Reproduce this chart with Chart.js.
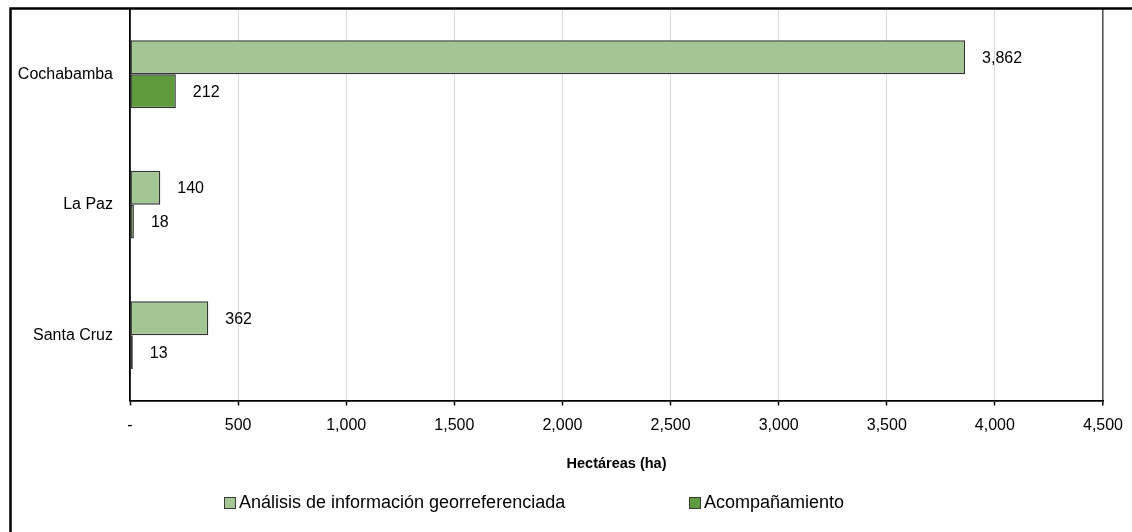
<!DOCTYPE html>
<html>
<head>
<meta charset="utf-8">
<script src="https://cdn.jsdelivr.net/npm/chart.js@4/dist/chart.umd.min.js"></script>
<style>
  html, body { margin: 0; padding: 0; background: #fff; }
  #wrap { width: 1132px; height: 532px; position: relative; }
</style>
</head>
<body>
<div id="wrap"><canvas id="c" width="1132" height="532"></canvas></div>
<script>
// Departments and hectares per activity
const departamentos = ['Cochabamba', 'La Paz', 'Santa Cruz'];
const analisisGeo = [3862, 140, 362];
const acompanamiento = [212, 18, 13];
const xTicks = [0, 500, 1000, 1500, 2000, 2500, 3000, 3500, 4000, 4500];
const serieNombres = ['Análisis de información georreferenciada', 'Acompañamiento'];
const ejeTitulo = 'Hectáreas (ha)';

const FONT = 'Liberation Sans, Arial, sans-serif';
const fmt = v => v.toLocaleString('en-US');

// Outer frame lines (top and left edges of the chart box)
const framePlugin = {
  id: 'frame',
  afterDraw(chart) {
    const ctx = chart.ctx;
    ctx.save();
    ctx.strokeStyle = '#000';
    ctx.lineWidth = 2.5;
    ctx.beginPath();
    ctx.moveTo(10.5, 532);
    ctx.lineTo(10.5, 8.5);
    ctx.lineTo(1132, 8.5);
    ctx.stroke();
    ctx.restore();
  }
};

// Value labels to the right of each bar
const valueLabels = {
  id: 'valueLabels',
  afterDatasetsDraw(chart) {
    const ctx = chart.ctx;
    ctx.save();
    ctx.font = '16px ' + FONT;
    ctx.fillStyle = '#000';
    ctx.textAlign = 'left';
    ctx.textBaseline = 'middle';
    chart.data.datasets.forEach((ds, i) => {
      const meta = chart.getDatasetMeta(i);
      meta.data.forEach((bar, j) => {
        ctx.fillText(fmt(ds.data[j]), bar.x + 17, bar.y + 1);
      });
    });
    ctx.restore();
  }
};

// Legend row under the axis title: small square swatch followed by the series name
const legendRow = {
  id: 'legendRow',
  afterDraw(chart) {
    const ctx = chart.ctx;
    const starts = [224, 689];
    const y = 503;
    ctx.save();
    ctx.font = '18px ' + FONT;
    ctx.textAlign = 'left';
    ctx.textBaseline = 'middle';
    chart.data.datasets.forEach((ds, i) => {
      const x = starts[i];
      ctx.fillStyle = ds.backgroundColor;
      ctx.fillRect(x, y - 6, 11, 11);
      ctx.strokeStyle = '#3a3a3a';
      ctx.lineWidth = 1;
      ctx.strokeRect(x + 0.5, y - 5.5, 11, 11);
      ctx.fillStyle = '#000';
      ctx.fillText(ds.label, x + 15, y);
    });
    ctx.restore();
  }
};

new Chart(document.getElementById('c'), {
  type: 'bar',
  data: {
    labels: departamentos,
    datasets: [
      {
        label: serieNombres[0],
        data: analisisGeo,
        backgroundColor: '#A2C794',
        borderColor: '#333',
        borderWidth: 1.4,
        borderSkipped: false,
        categoryPercentage: 0.52,
        barPercentage: 1.0
      },
      {
        label: serieNombres[1],
        data: acompanamiento,
        backgroundColor: '#5F9A3C',
        borderColor: '#333',
        borderWidth: 1.4,
        borderSkipped: false,
        categoryPercentage: 0.52,
        barPercentage: 1.0
      }
    ]
  },
  options: {
    indexAxis: 'y',
    responsive: false,
    animation: false,
    devicePixelRatio: 1,
    layout: { padding: { left: 0, right: 29, top: 9, bottom: 59 } },
    scales: {
      x: {
        min: 0,
        max: 4500,
        afterBuildTicks: s => { s.ticks = xTicks.map(v => ({ value: v })); },
        afterFit: s => { s.paddingLeft = 0; s.paddingRight = 0; },
        ticks: {
          font: { family: FONT, size: 16 },
          color: '#000',
          padding: 11,
          maxRotation: 0,
          callback: v => (v === 0 ? '-' : fmt(v))
        },
        grid: {
          color: ctx => (ctx.tick && ctx.tick.value === 4500 ? '#555' : '#d9d9d9'),
          lineWidth: ctx => (ctx.tick && ctx.tick.value === 4500 ? 1.6 : 1),
          tickColor: '#000',
          tickLength: 5,
          tickWidth: 1.5
        },
        border: { color: '#000', width: 1.8 },
        title: {
          display: true,
          text: ejeTitulo,
          font: { family: FONT, size: 14.5, weight: 'bold' },
          color: '#000',
          padding: { top: 9, bottom: 0 }
        }
      },
      y: {
        afterFit: s => { s.width = 130; s.paddingTop = 0; s.paddingBottom = 0; },
        ticks: {
          font: { family: FONT, size: 16 },
          color: '#000',
          padding: 17
        },
        grid: { display: false, drawTicks: false },
        border: { color: '#000', width: 1.8 }
      }
    },
    plugins: {
      legend: { display: false },
      tooltip: { enabled: false }
    }
  },
  plugins: [framePlugin, valueLabels, legendRow]
});
</script>
</body>
</html>
